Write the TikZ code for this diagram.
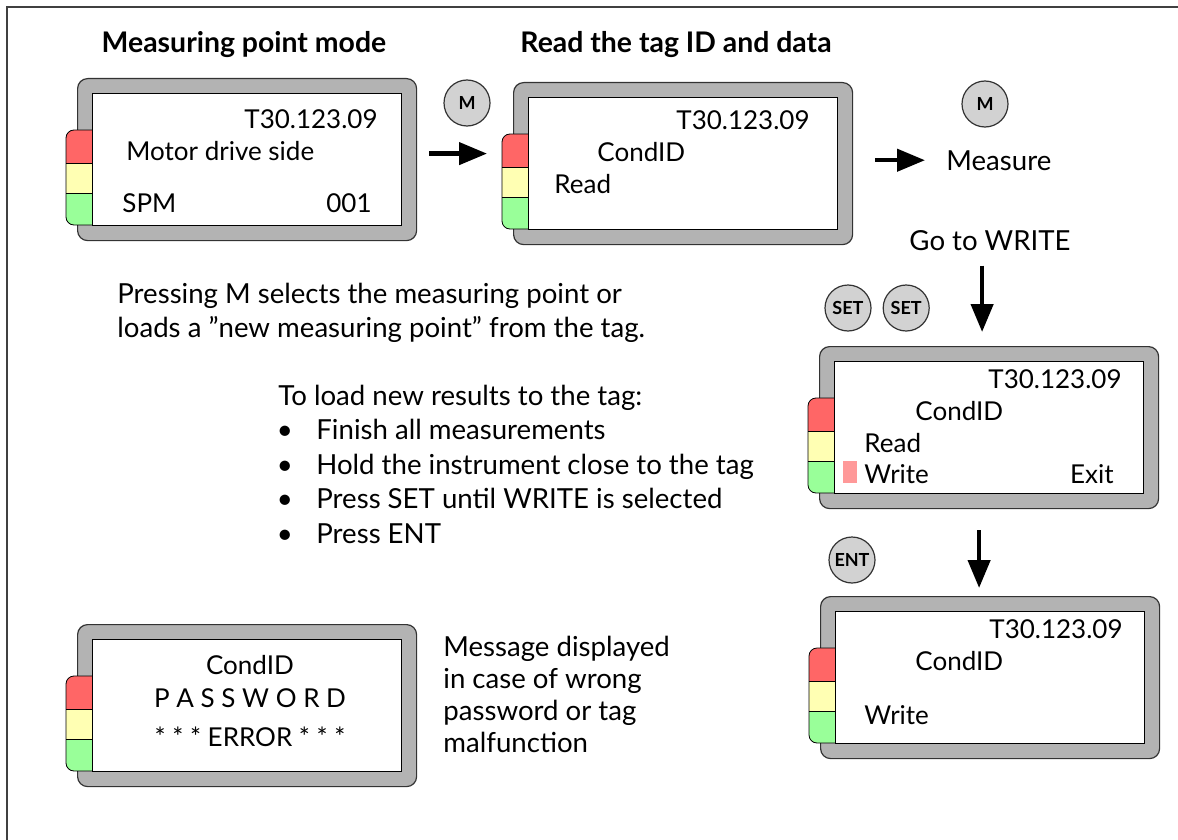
\documentclass[tikz,border=0pt]{standalone}
\usepackage{fontspec}
\setmainfont{Lato}
\usetikzlibrary{arrows.meta,positioning}
\definecolor{CaseGray}{RGB}{179,179,179}
\definecolor{LampRed}{RGB}{255,102,102}
\definecolor{LampYellow}{RGB}{255,255,179}
\definecolor{LampGreen}{RGB}{153,255,153}
\definecolor{KeyGray}{RGB}{210,210,210}
\definecolor{CursorPink}{RGB}{255,153,153}

\tikzset{
  lcdcase/.style={draw=black!80, fill=CaseGray, rounded corners=5pt, line width=0.6pt,
    minimum width=169.5pt, minimum height=81pt, inner sep=0pt, anchor=north west},
  key/.style={circle, draw=black!80, fill=KeyGray, line width=0.6pt, minimum size=23pt,
    inner sep=0pt, font=\fontsize{9}{10}\selectfont\bfseries},
  lcdtext/.style={inner sep=0pt, font=\fontsize{13}{15}\selectfont},
  note/.style={inner sep=0pt, font=\fontsize{13.8}{17}\selectfont},
  heading/.style={inner sep=0pt, font=\fontsize{14.2}{16}\selectfont\bfseries},
  bigarrow/.style={-{Triangle[length=14pt,width=11pt]}, line width=2.2pt},
}

\begin{document}
\begin{tikzpicture}[x=0.5pt, y=-0.5pt]
    \useasboundingbox (0,0) rectangle (1178,840);
    % Frame
    \draw[line width=0.9pt, black!75] (7,840) -- (7,7) -- (1178,7);

    % Headings
    \node[heading, anchor=base] (head1) at (244,53) {Measuring point mode};
    \node[heading, anchor=base] (head2) at (676,53) {Read the tag ID and data};

    % Displays: case, lamps and window
    \foreach \n/\x/\y in {mpm/77/78, read/513/82, menu/819/346, write/820/596, err/77/624} {
      \node[lcdcase] (\n) at (\x,\y) {};
      \begin{scope}
        \clip[rounded corners=4pt] (\x-11,\y+52) rectangle (\x+25,\y+147);
        \fill[LampRed] (\x-11,\y+52) rectangle (\x+15,\y+85);
        \fill[LampYellow] (\x-11,\y+85) rectangle (\x+15,\y+115);
        \fill[LampGreen] (\x-11,\y+115) rectangle (\x+15,\y+147);
      \end{scope}
      \draw[rounded corners=4pt] (\x+15,\y+52) -- (\x-11,\y+52) -- (\x-11,\y+147) -- (\x+15,\y+147);
      \draw (\x-11,\y+85) -- (\x+15,\y+85) (\x-11,\y+115) -- (\x+15,\y+115);
      \draw[fill=white] (\x+15,\y+15) rectangle (\x+324,\y+147);
    }

    % Measuring point mode
    \node[lcdtext, anchor=base east] (mpmtag) at (378,129) {T30.123.09};
    \node[lcdtext, anchor=base west] (mpmname) at (126,161) {Motor drive side};
    \node[lcdtext, anchor=base west] (mpmspm) at (122,213) {SPM};
    \node[lcdtext, anchor=base east] (mpmno) at (372,213) {001};

    % Read the tag
    \node[lcdtext, anchor=base east] (readtag) at (810,130) {T30.123.09};
    \node[lcdtext, anchor=base west] (readcond) at (597,162) {CondID};
    \node[lcdtext, anchor=base west] (readread) at (554,193) {Read};

    % Menu with Write selected
    \node[lcdtext, anchor=base east] (menutag) at (1122,388) {T30.123.09};
    \node[lcdtext, anchor=base west] (menucond) at (915,420) {CondID};
    \node[lcdtext, anchor=base west] (menuread) at (864,452) {Read};
    \node[lcdtext, anchor=base west] (menuwrite) at (864,483) {Write};
    \node[lcdtext, anchor=base east] (menuexit) at (1114,483) {Exit};
    \fill[CursorPink] (843,461) rectangle (857,483);

    % Writing
    \node[lcdtext, anchor=base east] (writetag) at (1123,638) {T30.123.09};
    \node[lcdtext, anchor=base west] (writecond) at (915,670) {CondID};
    \node[lcdtext, anchor=base west] (writewrite) at (864,724) {Write};

    % Error
    \node[lcdtext, anchor=base] (errcond) at (250,674) {CondID};
    \node[lcdtext, anchor=base] (errpw) at (250,707) {P A S S W O R D};
    \node[lcdtext, anchor=base] (errmsg) at (250,746) {* * * ERROR * * *};

    % Keys
    \node[key] (keym1) at (467,103) {M};
    \node[key] (keym2) at (985,104) {M};
    \node[key] (keyset1) at (848,308) {SET};
    \node[key, right=5.5pt of keyset1] (keyset2) {SET};
    \node[key] (keyent) at (852,560) {ENT};

    % Notes
    \node[note, anchor=base west] (measure) at (946,170) {Measure};
    \node[note, anchor=base] (gowrite) at (990,250) {Go to WRITE};
    \node[note, anchor=base west] (press1) at (117,303) {Pressing M selects the measuring point or};
    \node[note, anchor=base west] (press2) at (117,337) {loads a ”new measuring point” from the tag.};
    \node[note, anchor=base west] (loadhead) at (278,405) {To load new results to the tag:};
    \foreach \t [count=\i] in {Finish all measurements, Hold the instrument close to the tag,
        Press SET until WRITE is selected, Press ENT} {
      \node[note, anchor=base west] (item\i) at (316,{405+34.5*\i}) {\t};
      \node[note, anchor=base] (dot\i) at (285,{405+34.5*\i}) {\textbullet};
    }
    \foreach \t [count=\i] in {Message displayed, in case of wrong, password or tag, malfunction}
      \node[note, anchor=base west] (msg\i) at (443,{624+32*\i}) {\t};

    % Arrows
    \draw[bigarrow, shorten <=6pt, shorten >=13pt] ([yshift=3pt]mpm.east) -- ([yshift=3pt]mpm.east -| read.west);
    \draw[bigarrow, shorten <=11pt, shorten >=10.5pt] (read.east |- measure.west) -- (measure.west);
    \draw[bigarrow, shorten <=7.5pt, shorten >=7pt] ([xshift=-3.5pt]menu.north |- gowrite.south) -- ([xshift=-3.5pt]menu.north);
    \draw[bigarrow, shorten <=10.5pt, shorten >=4pt] ([xshift=-5pt]menu.south) -- ([xshift=-5pt]menu.south |- write.north);
\end{tikzpicture}
\end{document}
